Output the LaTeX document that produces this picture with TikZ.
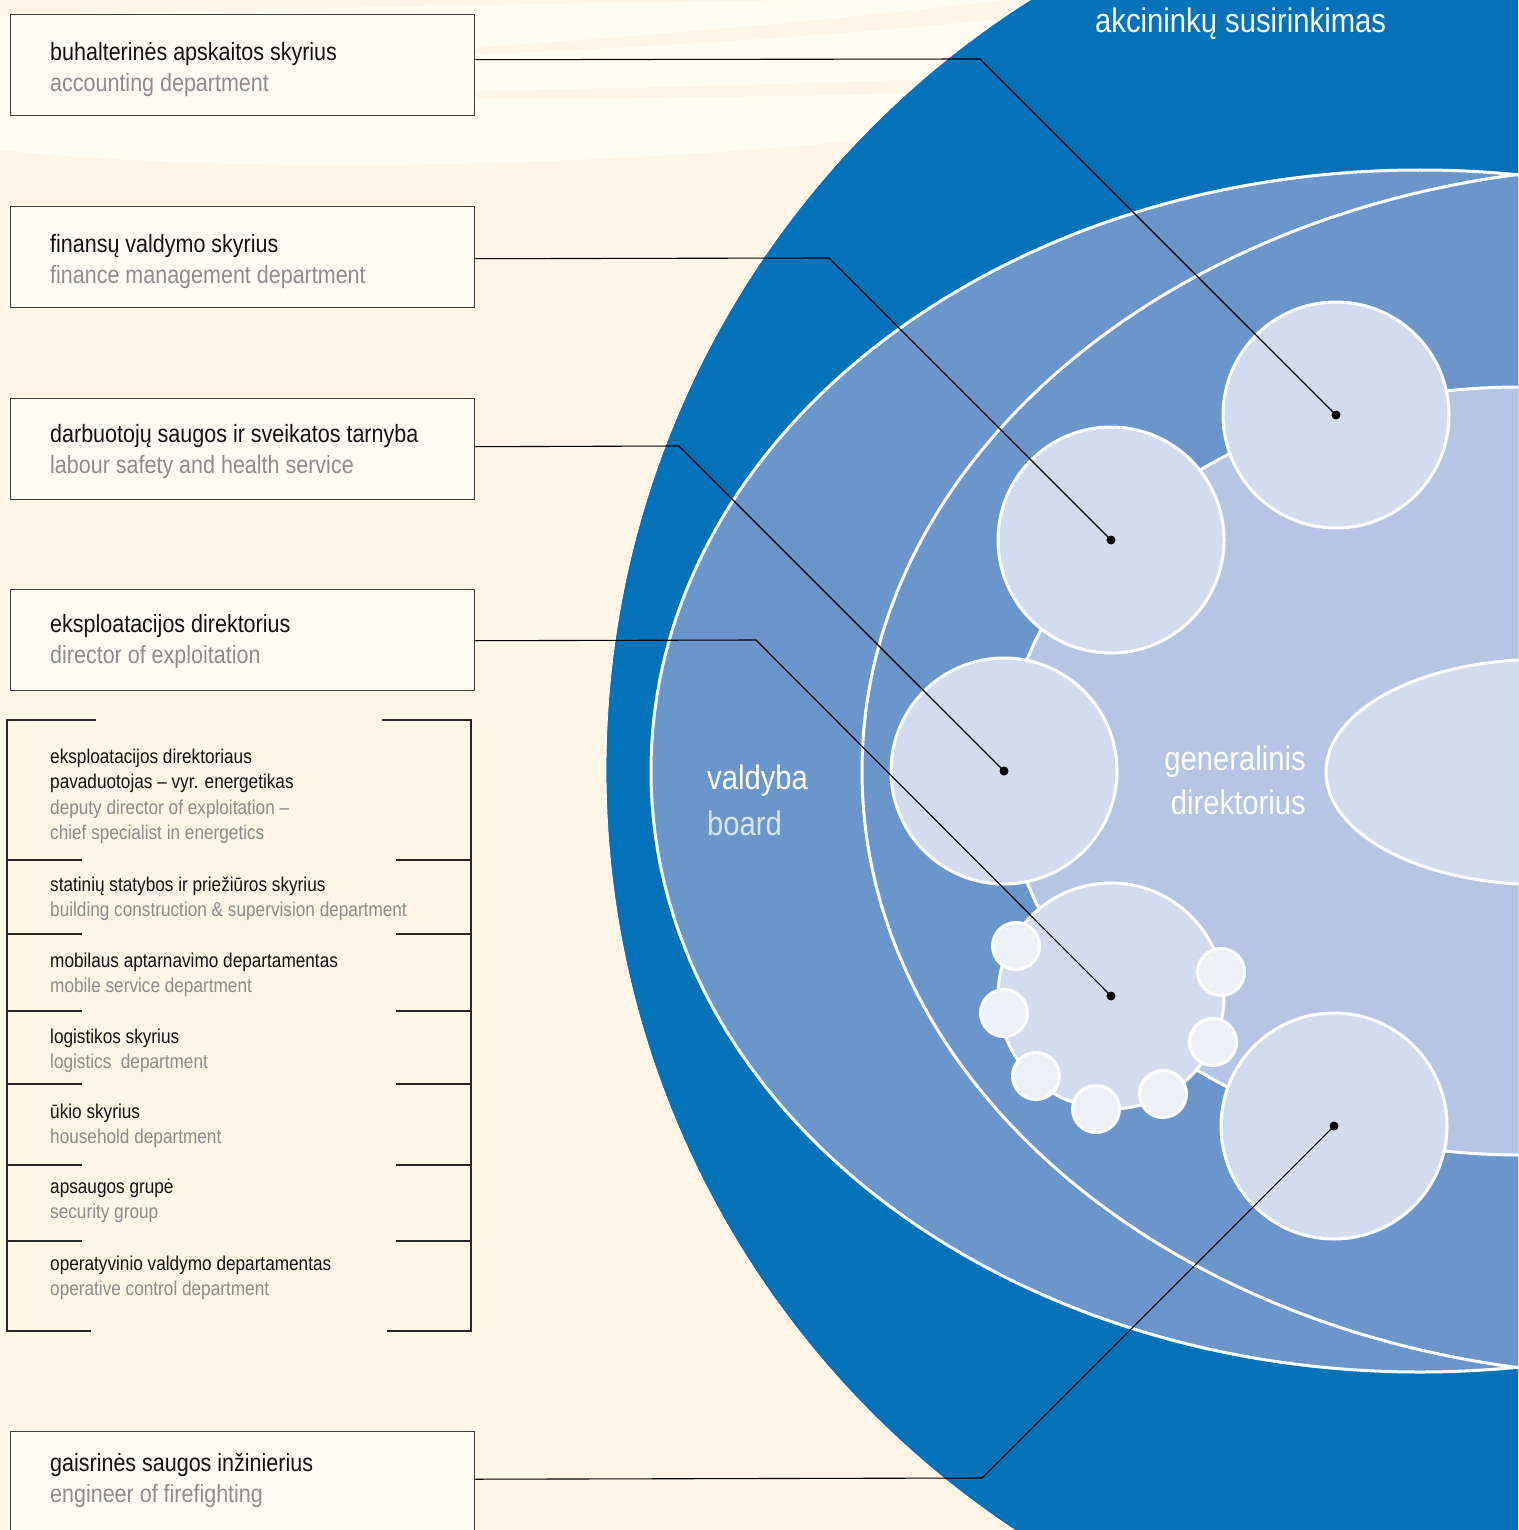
\documentclass[tikz,border=0pt]{standalone}
\usepackage{fontspec}
\setmainfont{Liberation Sans}[FakeStretch=0.86]
\usetikzlibrary{shapes.geometric}
\definecolor{cream}{HTML}{FEF5E6}
\definecolor{lightcream}{HTML}{FFFCF1}
\definecolor{boxfill}{HTML}{FFFDF3}
\definecolor{boxline}{HTML}{3C3C3C}
\definecolor{darkblue}{HTML}{0372B9}
\definecolor{midblue}{HTML}{6B96CB}
\definecolor{periblue}{HTML}{B5C5E3}
\definecolor{paleblue}{HTML}{D3DCEE}
\definecolor{tinyblue}{HTML}{EEF0F8}
\definecolor{boardcol}{HTML}{D8E6F5}
\definecolor{txtgray}{HTML}{8C8C8C}
\definecolor{txtblack}{HTML}{111111}
\begin{document}
\begin{tikzpicture}[x=1pt,y=-1pt,
  box/.style={draw=boxline,fill=boxfill,line width=1.4pt,minimum width=464pt,minimum height=101pt,anchor=north west,inner sep=0pt},
  bigtxt/.style={anchor=base west,inner sep=0pt,font=\fontsize{25}{31}\selectfont},
  grptxt/.style={anchor=base west,inner sep=0pt,font=\fontsize{20}{25}\selectfont},
  headtxt/.style={inner sep=0pt,font=\fontsize{34}{44}\selectfont},
  unit/.style={circle,draw=white,line width=3pt,fill=paleblue,minimum size=226pt,inner sep=0pt},
  small/.style={circle,draw=white,line width=3pt,fill=tinyblue,minimum size=47pt,inner sep=0pt},
  leader/.style={draw=black,line width=1.1pt},
  grp/.style={draw=black!85,line width=1.4pt}]
\useasboundingbox (0,0) rectangle (1518,1530);
\clip (0,0) rectangle (1518,1530);
% background
\fill[cream] (0,0) rectangle (1518,1530);
\fill[lightcream] (0,0) -- (1100,0) -- (1100,110) -- (1000,125) .. controls (600,175) and (200,172) .. (0,150) -- cycle;
\fill[cream] (0,0) -- (800,0) .. controls (500,4) and (200,10) .. (0,16) -- cycle;
\fill[cream] (200,62) .. controls (500,50) and (850,22) .. (1100,-12) -- (1100,8) .. controls (850,38) and (500,58) .. (200,62) -- cycle;
\fill[cream] (200,98) .. controls (500,90) and (800,86) .. (1000,76) -- (1000,90) .. controls (800,98) and (500,100) .. (200,98) -- cycle;
% big shapes
\fill[darkblue] (1517,770) circle (911pt);
\draw[white,line width=0.8pt] (1517,770) circle (911pt);
\filldraw[fill=midblue,draw=white,line width=3pt] (1420,771) ellipse [x radius=769pt,y radius=601pt];
\draw[white,line width=3pt] (1650,771) ellipse [x radius=788pt,y radius=605pt];
\filldraw[fill=periblue,draw=white,line width=3pt] (1520,771) ellipse [x radius=515pt,y radius=384pt];
\node[draw=white,line width=3pt,fill=paleblue,ellipse,minimum width=428pt,minimum height=225pt,inner sep=0pt] (oval) at (1540,772) {};
% unit circles
\node[unit] (c1) at (1336,415) {};
\node[unit] (c2) at (1111,540) {};
\node[unit] (c3) at (1004,771) {};
\node[unit] (c4) at (1111,996) {};
\node[unit] (c5) at (1334,1126) {};
\node[small] (s1) at (1016,946) {};
\node[small] (s2) at (1004,1013) {};
\node[small] (s3) at (1036,1076) {};
\node[small] (s4) at (1096,1109) {};
\node[small] (s5) at (1163,1094) {};
\node[small] (s6) at (1213,1042) {};
\node[small] (s7) at (1221,972) {};
% labels in blue area
\node[headtxt,anchor=base west,text=white] (akc) at (1095,33) {akcininkų susirinkimas};
\node[headtxt,anchor=base west,text=white] (val) at (707,789) {valdyba};
\node[headtxt,anchor=base west,text=boardcol] (brd) at (707,835) {board};
\node[headtxt,anchor=base east,text=white] (gen1) at (1306,770) {generalinis};
\node[headtxt,anchor=base east,text=white] (gen2) at (1306,814) {direktorius};
% boxes
\node[box] (b1) at (10,14) {};
\node[box] (b2) at (10,206) {};
\node[box] (b3) at (10,398) {};
\node[box] (b4) at (10,589) {};
\node[box] (b5) at (10,1431) {};
\node[bigtxt,text=txtblack] (b1a) at (50,61) {buhalterinės apskaitos skyrius};
\node[bigtxt,text=txtgray] (b1b) at (50,92) {accounting department};
\node[bigtxt,text=txtblack] (b2a) at (50,252) {finansų valdymo skyrius};
\node[bigtxt,text=txtgray] (b2b) at (50,283) {finance management department};
\node[bigtxt,text=txtblack] (b3a) at (50,442) {darbuotojų saugos ir sveikatos tarnyba};
\node[bigtxt,text=txtgray] (b3b) at (50,473) {labour safety and health service};
\node[bigtxt,text=txtblack] (b4a) at (50,632) {eksploatacijos direktorius};
\node[bigtxt,text=txtgray] (b4b) at (50,663) {director of exploitation};
\node[bigtxt,text=txtblack] (b5a) at (50,1471) {gaisrinės saugos inžinierius};
\node[bigtxt,text=txtgray] (b5b) at (50,1502) {engineer of firefighting};
% grouped list
\draw[grp] (96,720) -- (7,720) -- (7,1331) -- (91,1331);
\draw[grp] (382,720) -- (471,720) -- (471,1331) -- (387,1331);
\foreach \yy in {860,934,1011,1084,1165,1241}{
  \draw[grp] (7,\yy) -- (82,\yy);
  \draw[grp] (396,\yy) -- (471,\yy);
}
\node[grptxt,text=txtblack] (g1a) at (50,763) {eksploatacijos direktoriaus};
\node[grptxt,text=txtblack] (g1b) at (50,788) {pavaduotojas – vyr. energetikas};
\node[grptxt,text=txtgray] (g1c) at (50,814) {deputy director of exploitation –};
\node[grptxt,text=txtgray] (g1d) at (50,839) {chief specialist in energetics};
\node[grptxt,text=txtblack] (g2a) at (50,891) {statinių statybos ir priežiūros skyrius};
\node[grptxt,text=txtgray] (g2b) at (50,916) {building construction \& supervision department};
\node[grptxt,text=txtblack] (g3a) at (50,967) {mobilaus aptarnavimo departamentas};
\node[grptxt,text=txtgray] (g3b) at (50,992) {mobile service department};
\node[grptxt,text=txtblack] (g4a) at (50,1043) {logistikos skyrius};
\node[grptxt,text=txtgray] (g4b) at (50,1068) {logistics\ \ department};
\node[grptxt,text=txtblack] (g5a) at (50,1118) {ūkio skyrius};
\node[grptxt,text=txtgray] (g5b) at (50,1143) {household department};
\node[grptxt,text=txtblack] (g6a) at (50,1193) {apsaugos grupė};
\node[grptxt,text=txtgray] (g6b) at (50,1218) {security group};
\node[grptxt,text=txtblack] (g7a) at (50,1270) {operatyvinio valdymo departamentas};
\node[grptxt,text=txtgray] (g7b) at (50,1295) {operative control department};
% leaders
\coordinate (k1) at (980,59);
\coordinate (k2) at (829,258);
\coordinate (k3) at (679,446);
\coordinate (k4) at (756,640);
\coordinate (k5) at (982,1478);
\draw[leader] ([yshift=5.5pt]b1.east) -- (k1) -- (c1.center);
\draw[leader] ([yshift=-1.5pt]b2.east) -- (k2) -- (c2.center);
\draw[leader] ([yshift=2.5pt]b3.east) -- (k3) -- (c3.center);
\draw[leader] ([yshift=-0.5pt]b4.east) -- (k4) -- (c4.center);
\draw[leader] ([yshift=3pt]b5.east) -- (k5) -- (c5.center);
\foreach \c in {c1,c2,c3,c4,c5}{\fill[black] (\c.center) circle (4.5pt);}
\end{tikzpicture}
\end{document}
